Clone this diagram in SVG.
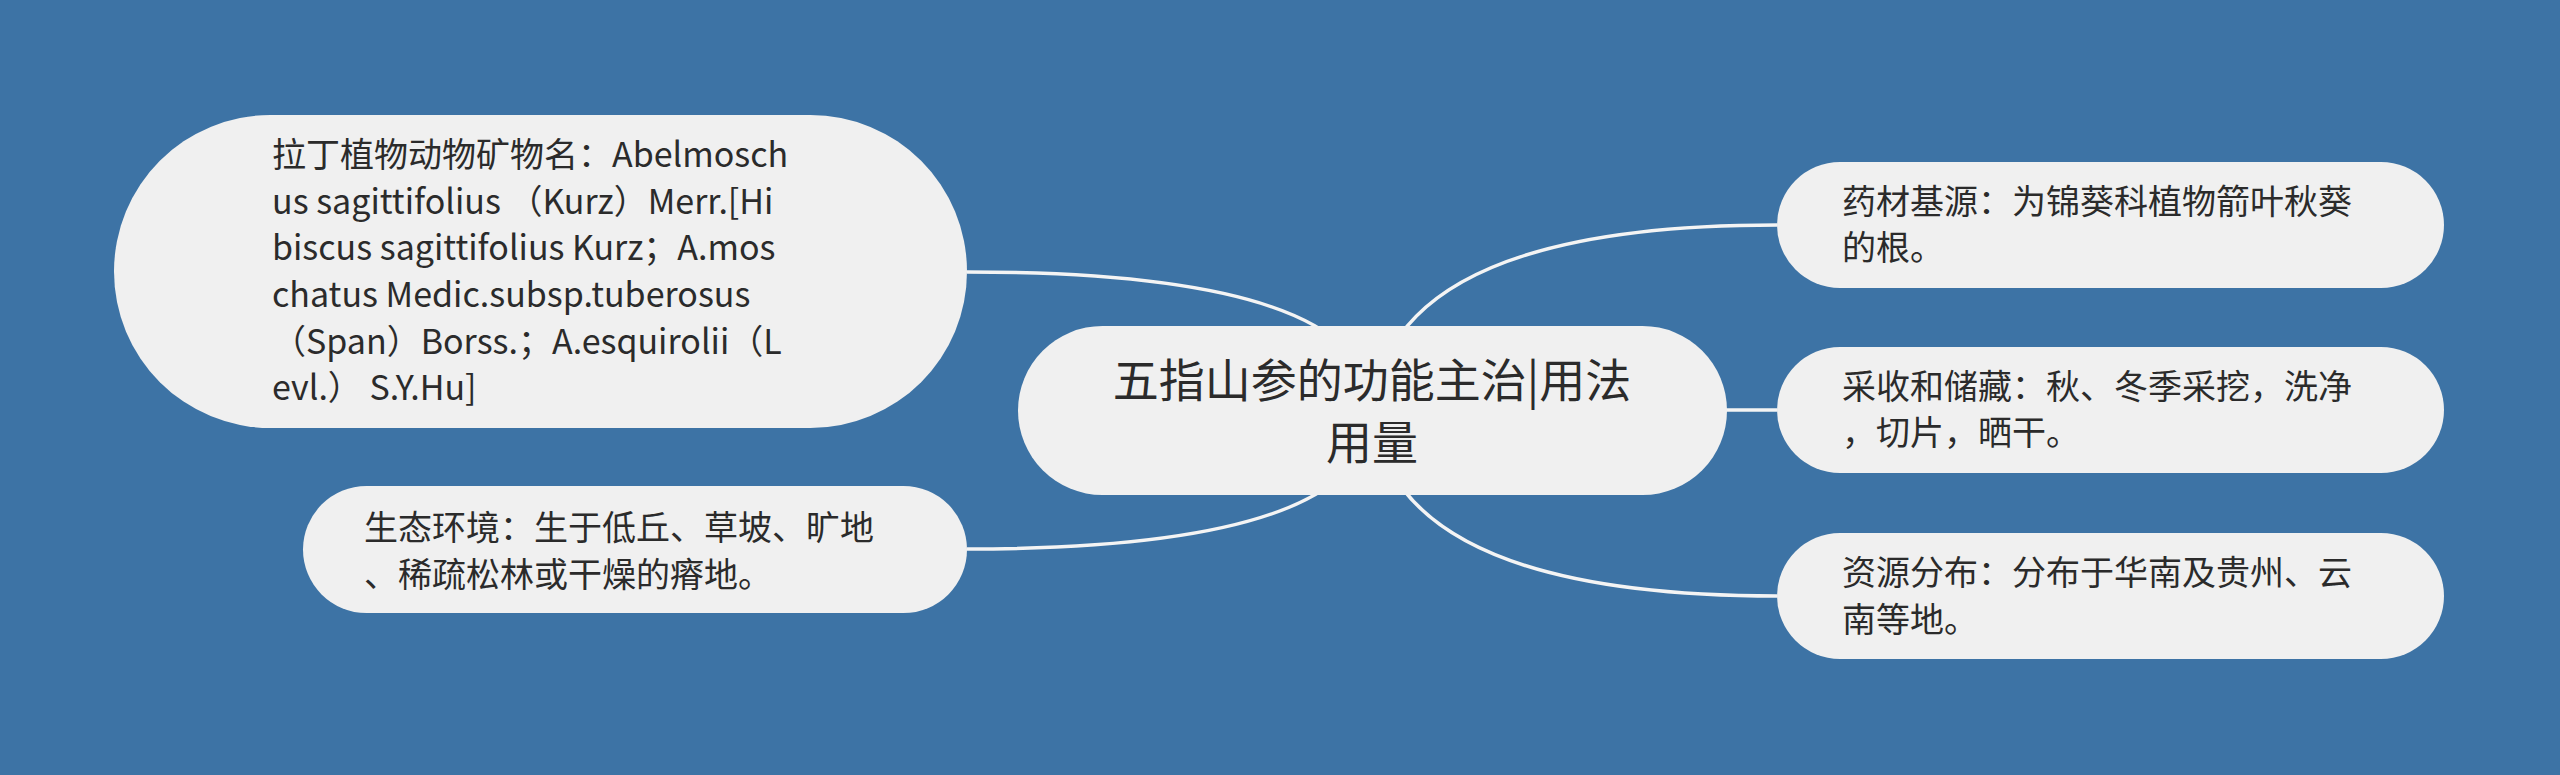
<svg xmlns="http://www.w3.org/2000/svg" width="2560" height="775" viewBox="0 0 2560 775">
<style>
.bg{fill:#3d73a5}
.node{fill:#f0f0f0}
.t{font-family:"Noto Sans CJK SC","Noto Sans",sans-serif;fill:#2b2b2b;font-size:34px}
.tc{font-family:"Noto Sans CJK SC","Noto Sans",sans-serif;fill:#2b2b2b;font-size:46px;text-anchor:middle}
.conn{fill:none;stroke:#f4f4f4;stroke-width:3.5}
</style>
<rect class="bg" x="0" y="0" width="2560" height="775"/>
<g id="connectors">
<path class="conn" d="M1372 410 Q1392 225 1777 225"/>
<path class="conn" d="M1372 410 L1777 410"/>
<path class="conn" d="M1372 410 Q1392 596 1777 596"/>
<path class="conn" d="M1372 410 Q1372 272 967 272"/>
<path class="conn" d="M1372 410 Q1372 549 967 549"/>
</g>
<g id="node-center">
<rect class="node" x="1018" y="326" width="709" height="169" rx="84.5"/>
<text class="tc" x="1372" y="397">五指山参的功能主治|用法</text>
<text class="tc" x="1372" y="459">用量</text>
</g>
<g id="node-latin">
<rect class="node" x="114" y="115" width="853" height="313" rx="156.5"/>
<text class="t" x="272" y="167">拉丁植物动物矿物名：Abelmosch</text>
<text class="t" x="272" y="214">us sagittifolius （Kurz）Merr.[Hi</text>
<text class="t" x="272" y="260">biscus sagittifolius Kurz；A.mos</text>
<text class="t" x="272" y="307">chatus Medic.subsp.tuberosus</text>
<text class="t" x="272" y="354">（Span）Borss.；A.esquirolii（L</text>
<text class="t" x="272" y="400">evl.） S.Y.Hu]</text>
</g>
<g id="node-ecology">
<rect class="node" x="303" y="486" width="664" height="127" rx="63.5"/>
<text class="t" x="364" y="540">生态环境：生于低丘、草坡、旷地</text>
<text class="t" x="364" y="587">、稀疏松林或干燥的瘠地。</text>
</g>
<g id="node-source">
<rect class="node" x="1777" y="162" width="667" height="126" rx="63"/>
<text class="t" x="1842" y="214">药材基源：为锦葵科植物箭叶秋葵</text>
<text class="t" x="1842" y="260">的根。</text>
</g>
<g id="node-harvest">
<rect class="node" x="1777" y="347" width="667" height="126" rx="63"/>
<text class="t" x="1842" y="399">采收和储藏：秋、冬季采挖，洗净</text>
<text class="t" x="1842" y="445">，切片，晒干。</text>
</g>
<g id="node-distribution">
<rect class="node" x="1777" y="533" width="667" height="126" rx="63"/>
<text class="t" x="1842" y="585">资源分布：分布于华南及贵州、云</text>
<text class="t" x="1842" y="632">南等地。</text>
</g>
</svg>
